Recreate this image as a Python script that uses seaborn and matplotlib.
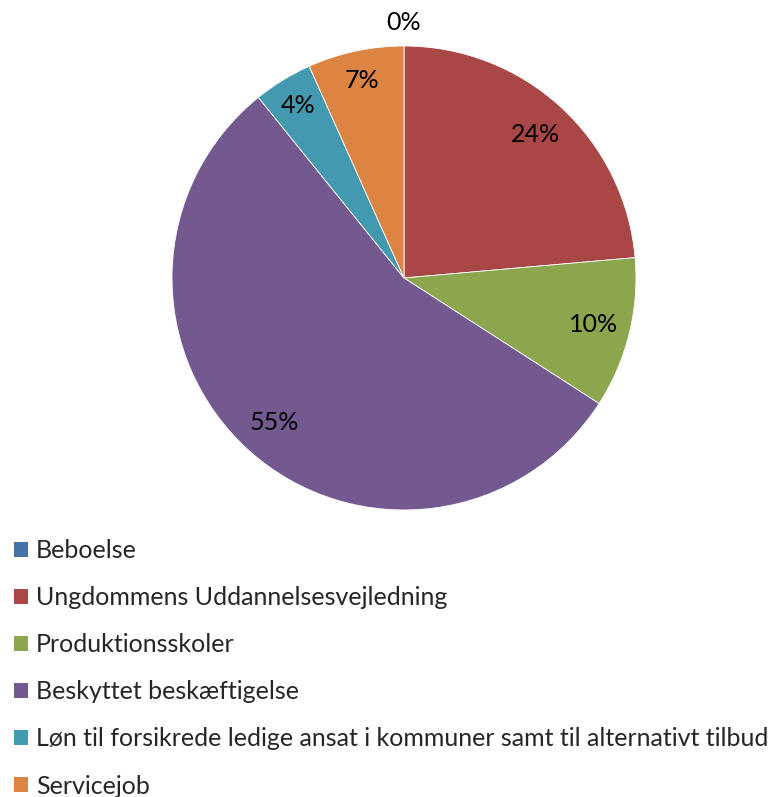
import matplotlib
matplotlib.use("Agg")
import matplotlib.pyplot as plt
import seaborn as sns
import numpy as np
from matplotlib.patches import Patch

sns.set_theme(style="white")
plt.rcParams['font.family'] = ['Lato', 'DejaVu Sans']

categories = ["Beboelse", "Ungdommens Uddannelsesvejledning", "Produktionsskoler",
              "Beskyttet beskæftigelse",
              "Løn til forsikrede ledige ansat i kommuner samt til alternativt tilbud",
              "Servicejob"]
values = [0.0, 23.6, 10.5, 55.1, 4.1, 6.7]
pct_labels = ["0%", "24%", "10%", "55%", "4%", "7%"]
colors = ["#4573A7", "#A94646", "#8CA64E", "#73598F", "#4399B0", "#DC8441"]

fig = plt.figure(figsize=(7.72, 7.97), dpi=100)
ax = fig.add_axes([172/772, 1 - 510/797, 464/772, 464/797])

wedges, _ = ax.pie(values, colors=colors, startangle=90, counterclock=False,
                   wedgeprops=dict(linewidth=0.6, edgecolor="white"))
ax.set_aspect("equal")
ax.set_xlim(-1, 1)
ax.set_ylim(-1, 1)

dists = [1.1, 0.84, 0.84, 0.84, 0.87, 0.87]
for w, lab, d in zip(wedges, pct_labels, dists):
    ang = np.deg2rad((w.theta1 + w.theta2) / 2)
    ax.text(d * np.cos(ang), d * np.sin(ang), lab, ha="center", va="center",
            fontsize=18, color="black", clip_on=False)

handles = [Patch(facecolor=c, edgecolor="none") for c in colors]
fig.legend(handles, categories, loc="upper left", bbox_to_anchor=(4/772, 1 - 529/797),
           frameon=False, fontsize=18, handlelength=0.55, handleheight=0.55,
           handletextpad=0.34, labelspacing=0.965, borderaxespad=0)

fig.savefig("out.png", dpi=100)
